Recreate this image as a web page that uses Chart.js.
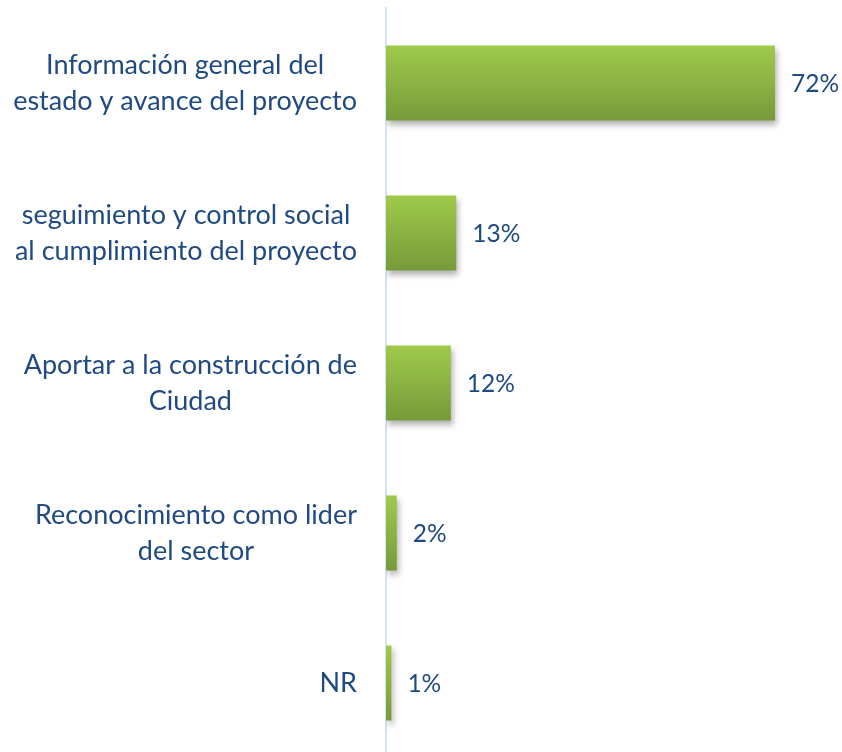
<!DOCTYPE html>
<html lang="es">
  <head>
    <meta charset="UTF-8" />
    <title>Chart</title>
    <script src="https://cdn.jsdelivr.net/npm/chart.js@4.4.1/dist/chart.umd.min.js"></script>
    <style>
      html, body { margin: 0; padding: 0; background: #fff; overflow: hidden; }
      #wrap { width: 842px; height: 758px; position: relative; }
    </style>
  </head>
  <body>
    <div id="wrap"><canvas id="bar"></canvas></div>
    <script>
      // categorias y valores (porcentaje)
      const categories = [
        ["Información general del", "estado y avance del proyecto"],
        ["seguimiento y control social", "al cumplimiento del proyecto"],
        ["Aportar a la construcción de", "Ciudad"],
        ["Reconocimiento como lider", "del sector"],
        ["NR"]
      ];
      const values = [72, 13, 12, 2, 1];
      const valueLabels = ["72%", "13%", "12%", "2%", "1%"];

      const textColor = "#1F4A82";
      const fontFamily = "Lato, 'Open Sans', sans-serif";

      // relleno degradado verde, calculado con la escala y
      const greenFill = (context) => {
        const chart = context.chart;
        const yScale = chart.scales.y;
        if (!yScale || context.dataIndex === undefined) return "#8DB544";
        const cy = yScale.getPixelForValue(context.dataIndex);
        const h = (yScale.height / categories.length) * 0.5;
        if (!isFinite(cy) || !isFinite(h) || h <= 0) return "#8DB544";
        const g = chart.ctx.createLinearGradient(0, cy - h / 2, 0, cy + h / 2);
        g.addColorStop(0, "#9FCA4B");
        g.addColorStop(1, "#779A3A");
        return g;
      };

      // sombra suave bajo las barras
      const shadowPlugin = {
        id: "shadow",
        beforeDatasetsDraw(chart) {
          const c = chart.ctx;
          c.save();
          c.shadowColor = "rgba(0,0,0,0.3)";
          c.shadowBlur = 6;
          c.shadowOffsetX = 2;
          c.shadowOffsetY = 4;
        },
        afterDatasetsDraw(chart) {
          chart.ctx.restore();
        }
      };

      // etiquetas de categoria: lineas centradas, bloque alineado a la derecha
      const categoryPlugin = {
        id: "categoryLabels",
        afterDraw(chart) {
          const c = chart.ctx;
          const yScale = chart.scales.y;
          const lineH = 36;
          c.save();
          c.fillStyle = textColor;
          c.font = "27px " + fontFamily;
          c.textAlign = "center";
          c.textBaseline = "middle";
          categories.forEach((lines, i) => {
            const cy = yScale.getPixelForTick(i);
            const widest = Math.max(...lines.map((l) => c.measureText(l).width));
            const cx = yScale.right - 29 - widest / 2;
            const y0 = cy - ((lines.length - 1) * lineH) / 2;
            lines.forEach((l, j) => c.fillText(l, cx, y0 + j * lineH));
          });
          c.restore();
        }
      };

      // etiquetas de valor a la derecha de cada barra
      const valuePlugin = {
        id: "values",
        afterDatasetsDraw(chart) {
          const c = chart.ctx;
          const meta = chart.getDatasetMeta(0);
          c.save();
          c.fillStyle = textColor;
          c.font = "24.5px " + fontFamily;
          c.textAlign = "left";
          c.textBaseline = "middle";
          meta.data.forEach((bar, i) => {
            c.fillText(valueLabels[i], bar.x + 16, bar.y + 1);
          });
          c.restore();
        }
      };

      new Chart(document.getElementById("bar"), {
        type: "bar",
        data: {
          labels: categories,
          datasets: [
            {
              data: values,
              backgroundColor: greenFill,
              borderWidth: 0,
              barPercentage: 0.5,
              categoryPercentage: 1
            }
          ]
        },
        options: {
          indexAxis: "y",
          responsive: true,
          maintainAspectRatio: false,
          animation: false,
          layout: { padding: { top: 8, right: 0, bottom: 0, left: 0 } },
          plugins: {
            legend: { display: false },
            tooltip: { enabled: false }
          },
          scales: {
            x: { display: false, min: 0, max: 84.4 },
            y: {
              afterFit(scale) {
                scale.width = 386;
                scale.paddingTop = 0;
                scale.paddingBottom = 0;
              },
              grid: { display: false, drawTicks: false },
              border: { display: true, color: "#D6E2F3", width: 2 },
              ticks: { display: false }
            }
          }
        },
        plugins: [shadowPlugin, valuePlugin, categoryPlugin]
      });
    </script>
  </body>
</html>
